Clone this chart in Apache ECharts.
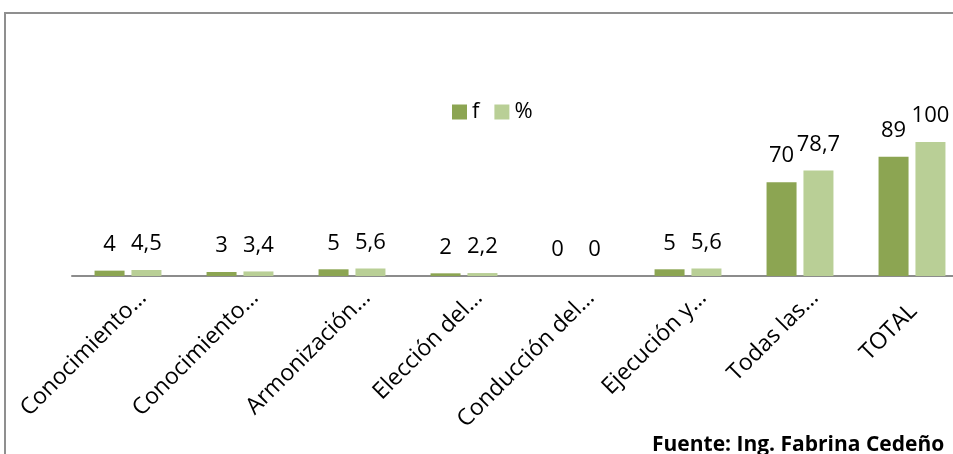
<!DOCTYPE html>
<html>
<head>
<meta charset="utf-8">
<script src="https://cdn.jsdelivr.net/npm/echarts@6/dist/echarts.min.js"></script>
<style>html,body{margin:0;padding:0;background:#fff;}#c{width:953px;height:454px;}</style>
</head>
<body>
<div id="c"></div>
<script>
const categories = ['Conocimiento…','Conocimiento…','Armonización…','Elección del…','Conducción del…','Ejecución y…','Todas las…','TOTAL'];
const seriesNames = ['f', '%'];
const fValues = [4, 3, 5, 2, 0, 5, 70, 89];
const pctValues = [4.5, 3.4, 5.6, 2.2, 0, 5.6, 78.7, 100];
const footerText = 'Fuente: Ing. Fabrina Cedeño';

const FONT = 'Open Sans';
const chart = echarts.init(document.getElementById('c'));
const labelFmt = p => String(p.value).replace('.', ',');
const valueLabel = {
  show: true, position: 'top', distance: 15,
  fontFamily: FONT, fontSize: 22, lineHeight: 22, color: '#000',
  formatter: labelFmt
};
chart.setOption({
  animation: false,
  backgroundColor: '#fff',
  legend: {
    data: seriesNames, left: 452, top: 101, padding: 0, itemWidth: 15, itemHeight: 15, itemGap: 15,
    icon: 'rect',
    textStyle: { fontFamily: FONT, fontSize: 22, color: '#000' }
  },
  grid: { left: 72, width: 896, top: 142, height: 134, containLabel: false, outerBoundsMode: 'none' },
  xAxis: {
    type: 'category',
    data: categories.map(c => ({ value: c, textStyle: { padding: [0, c === 'TOTAL' ? -2 : -21, 0, 0] } })),
    axisLine: { lineStyle: { color: '#8c8c8c', width: 2 } },
    axisTick: { show: false },
    axisLabel: { rotate: 45, margin: 33, interval: 0, fontFamily: FONT, fontSize: 23, color: '#000' }
  },
  yAxis: { type: 'value', min: 0, max: 100, show: false, splitLine: { show: false } },
  series: [
    { name: seriesNames[0], type: 'bar', data: fValues, barWidth: 30, barGap: '23%', itemStyle: { color: '#8ca552' }, label: valueLabel },
    { name: seriesNames[1], type: 'bar', data: pctValues, barWidth: 30, barGap: '23%', itemStyle: { color: '#b9cf96' }, label: valueLabel }
  ],
  graphic: [
    { type: 'rect', silent: true, shape: { x: 5, y: 13, width: 1000, height: 500 }, style: { fill: 'none', stroke: '#8f8f8f', lineWidth: 2 } },
    { type: 'text', left: 652, top: 435, style: { text: footerText, fontFamily: FONT, fontWeight: 'bold', fontSize: 21, fill: '#000' } }
  ]
});
</script>
</body>
</html>
